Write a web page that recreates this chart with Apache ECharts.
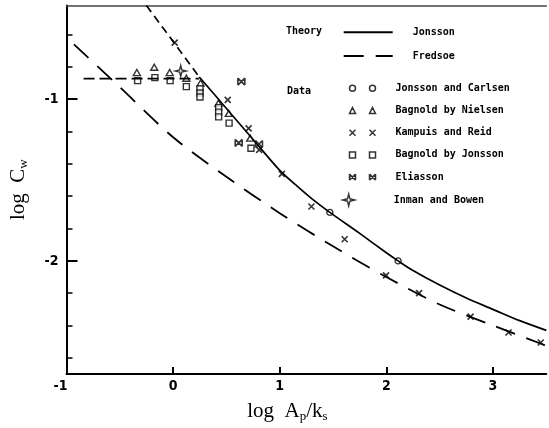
<!DOCTYPE html>
<html>
<head>
<meta charset="utf-8">
<script src="https://cdn.jsdelivr.net/npm/echarts@6/dist/echarts.min.js"></script>
<style>
  html, body { margin: 0; padding: 0; background: #fff; }
  #chart { width: 549px; height: 428px; }
</style>
</head>
<body>
<div id="chart"></div>
<script>
// theory curves as [log Ap/ks, log Cw]
const jonssonCurve = [[0.245, -0.862], [0.5, -1.057], [0.75, -1.249], [1.0, -1.44], [1.15, -1.53],
  [1.3, -1.615], [1.47, -1.70], [1.75, -1.83], [2.0, -1.95], [2.11, -2.0], [2.25, -2.06],
  [2.5, -2.15], [2.75, -2.23], [3.0, -2.30], [3.25, -2.37], [3.5, -2.43]]
const jonssonSteep = [[-0.25, -0.42], [0.245, -0.862]]
const jonssonCap = [[-0.84, -0.872], [0.245, -0.872]]
const fredsoeCurve = [[-0.93, -0.66], [-0.5, -0.925], [0, -1.235], [0.5, -1.48], [1.0, -1.705],
  [1.5, -1.91], [2.0, -2.10], [2.5, -2.27], [3.0, -2.40], [3.5, -2.525]]

// measured data
const jonssonCarlsen = [[1.47, -1.70], [2.11, -2.0]]
const bagnoldNielsen = [[-0.34, -0.835], [-0.177, -0.802], [-0.032, -0.835], [0.124, -0.87],
  [0.257, -0.90], [0.425, -1.025], [0.522, -1.088], [0.723, -1.241]]
const kampuisReid = [[0.015, -0.65], [0.512, -1.004], [0.708, -1.18], [0.807, -1.313], [1.02, -1.462],
  [1.297, -1.664], [1.609, -1.866], [1.997, -2.09], [2.307, -2.2], [2.79, -2.345],
  [3.146, -2.443], [3.448, -2.505]]
const bagnoldJonsson = [[-0.333, -0.885], [-0.171, -0.866], [-0.028, -0.885], [0.124, -0.922],
  [0.252, -0.936], [0.252, -0.961], [0.252, -0.986], [0.427, -1.052], [0.427, -1.08],
  [0.427, -1.109], [0.525, -1.148], [0.73, -1.303]]
const eliasson = [[0.64, -0.891], [0.615, -1.27], [0.805, -1.277]]
const inmanBowen = [[0.071, -0.825]]

const xTicks = [-1, 0, 1, 2, 3]
const yMinorTicks = [-2.6, -2.4, -2.2, -2.0, -1.8, -1.6, -1.4, -1.2, -1.0, -0.8, -0.6]
const yLabels = [-2, -1]

const monoFont = "'DejaVu Sans Mono', monospace"
const tickFont = "'Liberation Sans Narrow', 'DejaVu Sans Condensed', 'Liberation Sans', sans-serif"
const serif = "'Liberation Serif', 'DejaVu Serif', serif"

const crossPath = 'path://M0,0L10,10M10,0L0,10'
const bowPath = 'path://M0,0L0,10M10,0L10,10M0,0L10,10M10,0L0,10'
const starPath = 'path://M6,0L7.2,4.8L12,6L7.2,7.2L6,12L4.8,7.2L0,6L4.8,4.8Z'

const openStyle = { color: '#fff', borderColor: '#000', borderWidth: 1.4 }
const strokeStyle = { color: 'none', borderColor: '#000', borderWidth: 1.6 }

const chart = echarts.init(document.getElementById('chart'))

const legendText = { fontFamily: monoFont, fontWeight: 'bold', fontSize: 10, lineHeight: 12, color: '#000' }

const option = {
  animation: false,
  backgroundColor: '#fff',
  grid: { left: 63, right: 2.7, top: 5.5, bottom: 53.8 },
  xAxis: [{
    type: 'value', min: -1, max: 3.5,
    name: '{a|log  A}{s|p}{a|/k}{s|s}',
    nameLocation: 'middle', nameGap: 25,
    nameTextStyle: {
      padding: [0, 38, 0, 0],
      rich: {
        a: { fontFamily: serif, fontSize: 21, color: '#000', lineHeight: 24 },
        s: { fontFamily: serif, fontSize: 13, color: '#000', lineHeight: 24, verticalAlign: 'bottom' }
      }
    },
    splitLine: { show: false },
    axisLine: { onZero: false, lineStyle: { color: '#000', width: 2 } },
    axisTick: { inside: true, length: 7, customValues: [0, 1, 2, 3], lineStyle: { color: '#000', width: 2 } },
    axisLabel: {
      customValues: xTicks, margin: 5, color: '#000', fontFamily: tickFont, fontWeight: 'bold', fontSize: 14,
      formatter: v => v < 0 ? '{m|' + v + '}' : String(v),
      rich: { m: { fontFamily: tickFont, fontWeight: 'bold', fontSize: 14, color: '#000', padding: [0, 12, 0, 0] } }
    }
  }, {
    type: 'value', min: -1, max: 3.5, position: 'top',
    splitLine: { show: false },
    axisLine: { onZero: false, lineStyle: { color: '#444', width: 1.5 } },
    axisTick: { show: false },
    axisLabel: { show: false }
  }],
  yAxis: [{
    type: 'value', min: -2.7, max: -0.42, position: 'left',
    name: '{a|log  C}{s|w}',
    nameLocation: 'middle', nameGap: 36, nameRotate: 90,
    nameTextStyle: {
      rich: {
        a: { fontFamily: serif, fontSize: 21, color: '#000', lineHeight: 24 },
        s: { fontFamily: serif, fontSize: 13, color: '#000', lineHeight: 24, verticalAlign: 'bottom' }
      }
    },
    splitLine: { show: false },
    axisLine: { onZero: false, lineStyle: { color: '#000', width: 2 } },
    axisTick: { inside: true, length: 6, customValues: yMinorTicks, lineStyle: { color: '#000', width: 1.5 } },
    axisLabel: {
      customValues: yLabels, margin: 8, color: '#000',
      fontFamily: tickFont, fontWeight: 'bold', fontSize: 14,
      formatter: v => String(Math.round(v))
    }
  }, {
    type: 'value', min: -2.7, max: -0.42, position: 'left',
    splitLine: { show: false },
    axisLine: { show: false, onZero: false },
    axisTick: { inside: true, length: 11, customValues: yLabels, lineStyle: { color: '#000', width: 2 } },
    axisLabel: { show: false }
  }],
  graphic: [
    { type: 'text', left: 286, top: 26, style: { text: 'Theory', font: 'bold 10px ' + monoFont, fill: '#000' } },
    { type: 'text', left: 287, top: 86, style: { text: 'Data', font: 'bold 10px ' + monoFont, fill: '#000' } }
  ],
  legend: [{
    // theory lines
    orient: 'vertical', left: 342.7, top: 26.3, padding: 0, itemGap: 11.7,
    itemWidth: 49, itemHeight: 8, selectedMode: false,
    itemStyle: { opacity: 0 },
    data: ['Jonsson', 'Fredsoe'],
    formatter: name => '{g| }' + name,
    textStyle: Object.assign({ rich: { g: { width: 15 } } }, legendText)
  }, {
    // data symbols, shown twice like the original key
    orient: 'vertical', left: 347, top: 82.3, padding: 0, itemGap: 10.2,
    itemWidth: 26, itemHeight: 6, selectedMode: false,
    itemStyle: { borderWidth: 1.5 },
    data: [
      { name: 'Jonsson and Carlsen', icon: 'path://M0,3A3,3 0 1,0 6,3A3,3 0 1,0 0,3M20,3A3,3 0 1,0 26,3A3,3 0 1,0 20,3' },
      { name: 'Bagnold by Nielsen', icon: 'path://M3,0L6,6L0,6ZM23,0L26,6L20,6Z' },
      { name: 'Kampuis and Reid', icon: 'path://M0,0L6,6M6,0L0,6M20,0L26,6M26,0L20,6' },
      { name: 'Bagnold by Jonsson', icon: 'path://M0,0L6,0L6,6L0,6ZM20,0L26,0L26,6L20,6Z' },
      { name: 'Eliasson', icon: 'path://M0,0L0,6M6,0L6,6M0,0L6,6M6,0L0,6M20,0L20,6M26,0L26,6M20,0L26,6M26,0L20,6' }
    ],
    formatter: name => '{g| }' + name,
    textStyle: Object.assign({ rich: { g: { width: 15 } } }, legendText)
  }, {
    orient: 'vertical', left: 342, top: 193.3, padding: 0,
    itemWidth: 12, itemHeight: 12, selectedMode: false,
    itemStyle: { borderWidth: 1.4 },
    data: [{ name: 'Inman and Bowen', icon: starPath }],
    formatter: name => '{g| }' + name,
    textStyle: Object.assign({ rich: { g: { width: 34 } } }, legendText)
  }],
  series: [
    { name: 'Jonsson', type: 'line', data: jonssonCurve, symbol: 'none', smooth: 0.3,
      lineStyle: { color: '#000', width: 1.7 }, itemStyle: { color: '#000' } },
    { name: 'Jonsson steep', type: 'line', data: jonssonSteep, symbol: 'none',
      lineStyle: { color: '#000', width: 1.7, type: [8, 5] } },
    { name: 'Jonsson cap', type: 'line', data: jonssonCap, symbol: 'none',
      lineStyle: { color: '#000', width: 1.7, type: [11, 5] } },
    { name: 'Fredsoe', type: 'line', data: fredsoeCurve, symbol: 'none', smooth: 0.3,
      lineStyle: { color: '#000', width: 1.8, type: [20, 12] }, itemStyle: { color: '#000' } },
    { name: 'Jonsson and Carlsen', type: 'scatter', data: jonssonCarlsen, symbol: 'circle', symbolSize: 6, itemStyle: openStyle },
    { name: 'Bagnold by Nielsen', type: 'scatter', data: bagnoldNielsen, symbol: 'triangle', symbolSize: [7, 6], itemStyle: openStyle },
    { name: 'Kampuis and Reid', type: 'scatter', data: kampuisReid, symbol: crossPath, symbolSize: 6, itemStyle: strokeStyle },
    { name: 'Bagnold by Jonsson', type: 'scatter', data: bagnoldJonsson, symbol: 'rect', symbolSize: 6, itemStyle: openStyle },
    { name: 'Eliasson', type: 'scatter', data: eliasson, symbol: bowPath, symbolSize: 7, itemStyle: strokeStyle },
    { name: 'Inman and Bowen', type: 'scatter', data: inmanBowen, symbol: starPath, symbolSize: 11, itemStyle: openStyle }
  ]
}

chart.setOption(option)
</script>
</body>
</html>
